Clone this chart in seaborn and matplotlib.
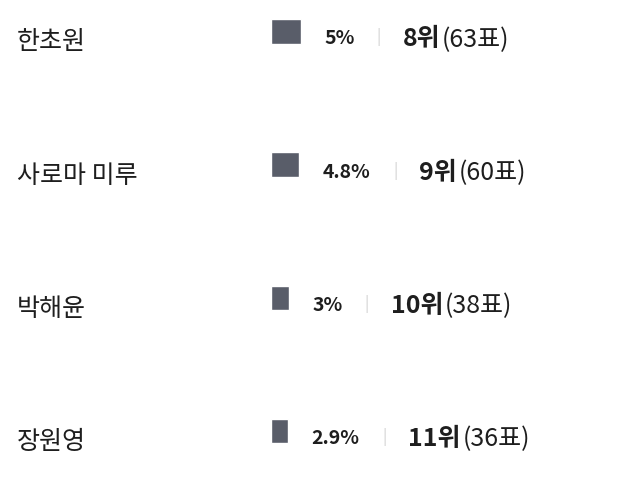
import matplotlib
matplotlib.use("Agg")
import matplotlib.pyplot as plt
import seaborn as sns

# values
names = ["한초원", "사로마 미루", "박해윤", "장원영"]
shares = [5.0, 4.8, 3.0, 2.9]
share_labels = ["5%", "4.8%", "3%", "2.9%"]
ranks = [8, 9, 10, 11]
votes = [63, 60, 38, 36]


def main():
    sns.set_style("white")
    plt.rcParams["font.family"] = ["Noto Sans CJK KR", "DejaVu Sans"]

    fig = plt.figure(figsize=(6.4, 4.8), dpi=100)
    ax = fig.add_axes([0, 0, 1, 1])

    sns.barplot(x=shares, y=names, orient="h", color="#595d69",
                saturation=1, width=0.184, ax=ax)

    # pixel-ish layout: bars start at x=271px, ~5.9px per percent, rows 133px apart
    ax.set_xlim(-271 / 5.9, (640 - 271) / 5.9)
    ax.set_ylim((480 - 31.5) / 133.2, -31.5 / 133.2)
    ax.axis("off")

    dark = "#1e1e1e"
    for i, name in enumerate(names):
        ax.text(17 / 640, i + 0.06, name, transform=ax.get_yaxis_transform(),
                fontsize=18, color=dark, va="center_baseline", ha="left")

        pct = ax.annotate(share_labels[i], xy=(shares[i], i + 0.04),
                          xytext=(17, 0), textcoords="offset points",
                          fontsize=14, fontweight="bold", color=dark,
                          va="center_baseline", ha="left")
        sep = ax.annotate("|", xy=(1, i + 0.03), xycoords=(pct, "data"),
                          xytext=(16, 0), textcoords="offset points",
                          fontsize=11, color="#d0d0d0",
                          va="center_baseline", ha="left")
        rk = ax.annotate(f"{ranks[i]}위", xy=(1, i + 0.04), xycoords=(sep, "data"),
                         xytext=(16, 0), textcoords="offset points",
                         fontsize=18, fontweight="bold", color=dark,
                         va="center_baseline", ha="left")
        ax.annotate(f"({votes[i]}표)", xy=(1, i + 0.04), xycoords=(rk, "data"),
                    xytext=(1, 0), textcoords="offset points",
                    fontsize=18, color=dark,
                    va="center_baseline", ha="left")

    fig.savefig("out.png", dpi=100, facecolor="white")
    plt.close(fig)


if __name__ == "__main__":
    main()
